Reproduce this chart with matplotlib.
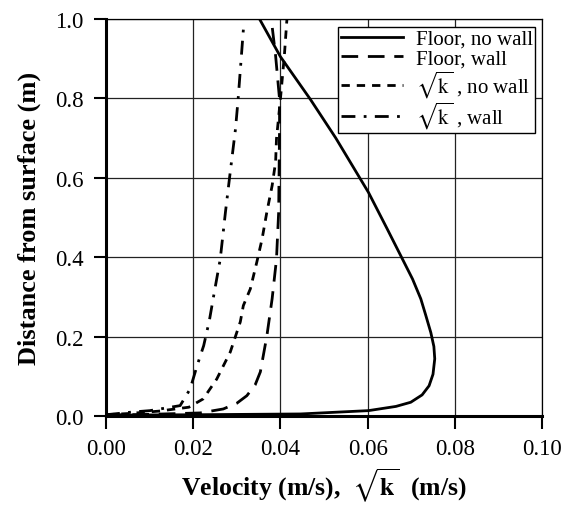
import matplotlib
matplotlib.use("Agg")
import matplotlib.pyplot as plt

plt.rcParams['font.family'] = 'serif'
plt.rcParams['font.serif'] = ['Liberation Serif', 'DejaVu Serif']
plt.rcParams['mathtext.fontset'] = 'stix'

# Floor, no wall (solid)
floor_nowall_x = [0.0, 0.02, 0.0446, 0.0602, 0.0665, 0.0699, 0.0725, 0.0741, 0.0750, 0.0754,
                  0.0752, 0.0745, 0.0733, 0.0722, 0.0703, 0.068, 0.0645, 0.0602, 0.0527,
                  0.0469, 0.0400, 0.0352]
floor_nowall_y = [0.002, 0.003, 0.005, 0.0134, 0.024, 0.0345, 0.053, 0.076, 0.105, 0.144,
                  0.175, 0.21, 0.255, 0.295, 0.345, 0.395, 0.471, 0.563, 0.70,
                  0.797, 0.905, 1.0]

# Floor, wall (long dash)
floor_wall_x = [0.0, 0.01, 0.0216, 0.0269, 0.0300, 0.0323, 0.0342, 0.0354, 0.0369, 0.0381,
                0.0391, 0.0396, 0.0398, 0.0398, 0.0389, 0.0379]
floor_wall_y = [0.002, 0.004, 0.0076, 0.0176, 0.032, 0.051, 0.078, 0.111, 0.202, 0.295,
                0.395, 0.514, 0.723, 0.798, 0.907, 1.0]

# sqrt(k), no wall (short dash)
k_nowall_x = [0.0, 0.005, 0.012, 0.019, 0.0223, 0.0254, 0.0285, 0.0308, 0.0315, 0.0331,
              0.0346, 0.0358, 0.0369, 0.0381, 0.0389, 0.0391, 0.040, 0.0409, 0.0415]
k_nowall_y = [0.003, 0.006, 0.012, 0.022, 0.043, 0.093, 0.161, 0.237, 0.278, 0.320,
              0.388, 0.446, 0.514, 0.580, 0.640, 0.698, 0.798, 0.907, 1.0]

# sqrt(k), wall (dash-dot)
k_wall_x = [0.0, 0.0062, 0.0101, 0.0170, 0.0193, 0.0209, 0.0224, 0.0237, 0.0247,
            0.0262, 0.0274, 0.0285, 0.0297, 0.0303, 0.0316]
k_wall_y = [0.003, 0.010, 0.0134, 0.026, 0.068, 0.127, 0.177, 0.240, 0.303,
            0.395, 0.514, 0.615, 0.723, 0.798, 0.987]

labels = ['Floor, no wall', 'Floor, wall',
          r'$\sqrt{\mathrm{k}}$ , no wall', r'$\sqrt{\mathrm{k}}$ , wall']

fig = plt.figure(figsize=(5.66, 5.06), dpi=100)
ax = fig.add_axes([0.1873, 0.176, 0.7703, 0.7846])

lw = 2.0
ax.plot(floor_nowall_x, floor_nowall_y, color='black', lw=lw, ls='-', label=labels[0])
ax.plot(floor_wall_x, floor_wall_y, color='black', lw=lw, dashes=(6, 3.5), label=labels[1])
ax.plot(k_nowall_x, k_nowall_y, color='black', lw=lw, dashes=(3, 2.5), label=labels[2])
ax.plot(k_wall_x, k_wall_y, color='black', lw=lw, dashes=(5, 3, 1, 3), label=labels[3])

ax.set_xlim(0, 0.1)
ax.set_ylim(0, 1.0)
ax.set_xticks([0.0, 0.02, 0.04, 0.06, 0.08, 0.10])
ax.set_yticks([0.0, 0.2, 0.4, 0.6, 0.8, 1.0])
ax.set_xticklabels(['0.00', '0.02', '0.04', '0.06', '0.08', '0.10'])
ax.set_yticklabels(['0.0', '0.2', '0.4', '0.6', '0.8', '1.0'])
ax.tick_params(direction='out', length=9, width=1.5, labelsize=16.5, pad=7, colors='black')

ax.grid(True, color='#222222', lw=0.9)
ax.set_axisbelow(True)
ax.spines['left'].set_linewidth(2.2)
ax.spines['bottom'].set_linewidth(2.2)
ax.spines['top'].set_linewidth(0.9)
ax.spines['right'].set_linewidth(0.9)

ax.set_xlabel(r'Velocity (m/s),  $\sqrt{\mathbf{k}}$  (m/s)', fontsize=18.5, fontweight='bold', labelpad=5)
ax.set_ylabel('Distance from surface (m)', fontsize=19, fontweight='bold', labelpad=10)

leg = ax.legend(loc='upper right', bbox_to_anchor=(0.983, 0.979), fontsize=15,
                handlelength=3.0, labelspacing=0.0, borderpad=0.1, handletextpad=0.6,
                borderaxespad=0, fancybox=False, framealpha=1, edgecolor='black')
leg.get_frame().set_linewidth(1.0)

plt.savefig('out.png', dpi=100)
